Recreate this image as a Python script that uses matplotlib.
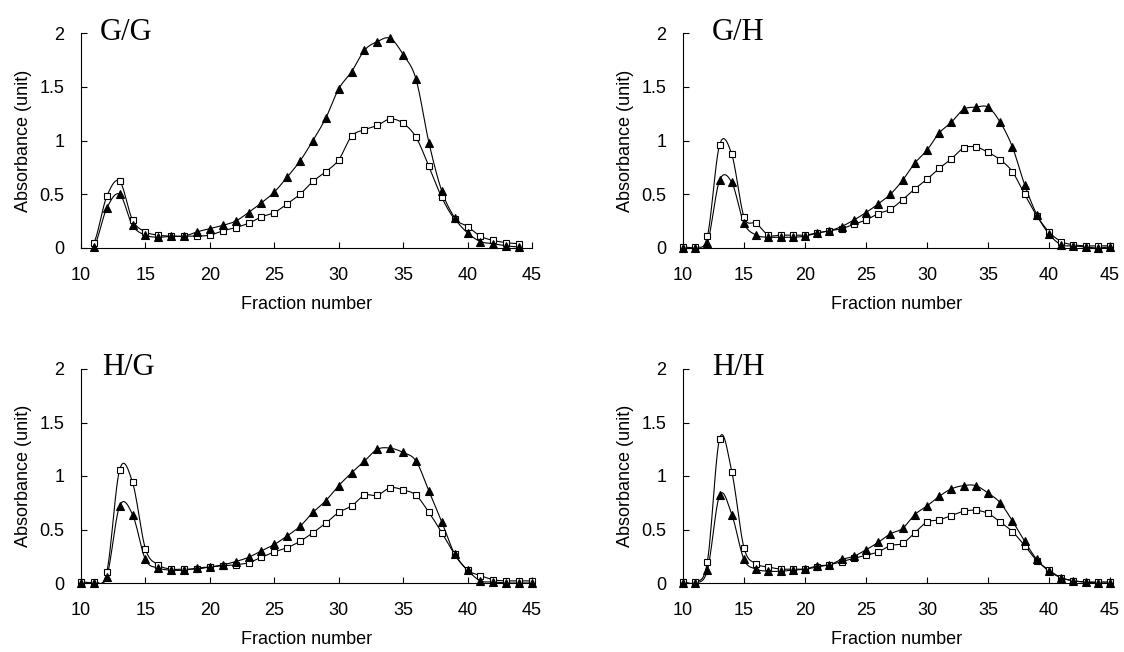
import numpy as np
import matplotlib
matplotlib.use('Agg')
import matplotlib.pyplot as plt

plt.rcParams['font.family'] = ['Liberation Sans', 'DejaVu Sans']

titles = ['G/G', 'G/H', 'H/G', 'H/H']

# fraction numbers for each panel
gg_x = list(range(11, 45))
gg_sq = [0.05, 0.48, 0.62, 0.26, 0.15, 0.12, 0.11, 0.11, 0.11, 0.12, 0.16, 0.19,
         0.23, 0.29, 0.33, 0.41, 0.50, 0.62, 0.71, 0.82, 1.04, 1.10, 1.14, 1.20,
         1.16, 1.03, 0.76, 0.47, 0.27, 0.20, 0.11, 0.07, 0.05, 0.04]
gg_tri = [0.01, 0.37, 0.50, 0.21, 0.12, 0.10, 0.11, 0.11, 0.15, 0.18, 0.21, 0.25,
          0.33, 0.42, 0.52, 0.66, 0.81, 1.00, 1.21, 1.48, 1.64, 1.84, 1.92, 1.95,
          1.80, 1.57, 0.98, 0.53, 0.28, 0.14, 0.06, 0.04, 0.02, 0.01]

gh_x = list(range(10, 46))
gh_sq = [0.01, 0.01, 0.11, 0.96, 0.87, 0.29, 0.23, 0.12, 0.12, 0.12, 0.12, 0.14,
         0.16, 0.18, 0.22, 0.26, 0.32, 0.36, 0.45, 0.55, 0.64, 0.74, 0.83, 0.93,
         0.94, 0.89, 0.82, 0.71, 0.50, 0.30, 0.15, 0.06, 0.03, 0.02, 0.02, 0.02]
gh_tri = [0.0, 0.0, 0.05, 0.63, 0.61, 0.23, 0.12, 0.10, 0.10, 0.10, 0.11, 0.14,
          0.16, 0.20, 0.26, 0.33, 0.41, 0.50, 0.63, 0.79, 0.91, 1.07, 1.17, 1.29,
          1.31, 1.31, 1.17, 0.94, 0.59, 0.31, 0.13, 0.03, 0.02, 0.01, 0.0, 0.01]

hg_x = list(range(10, 46))
hg_sq = [0.01, 0.01, 0.10, 1.06, 0.94, 0.32, 0.17, 0.13, 0.13, 0.13, 0.15, 0.16,
         0.17, 0.19, 0.24, 0.29, 0.33, 0.39, 0.47, 0.56, 0.66, 0.72, 0.82, 0.82,
         0.89, 0.87, 0.82, 0.66, 0.47, 0.27, 0.12, 0.07, 0.03, 0.02, 0.02, 0.02]
hg_tri = [0.0, 0.0, 0.06, 0.72, 0.64, 0.22, 0.14, 0.12, 0.12, 0.14, 0.15, 0.17,
          0.20, 0.24, 0.30, 0.36, 0.44, 0.53, 0.66, 0.77, 0.91, 1.03, 1.14, 1.25,
          1.26, 1.22, 1.14, 0.86, 0.57, 0.27, 0.12, 0.02, 0.01, 0.0, 0.0, 0.0]

hh_x = list(range(10, 46))
hh_sq = [0.01, 0.01, 0.20, 1.35, 1.04, 0.33, 0.18, 0.15, 0.13, 0.13, 0.13, 0.15,
         0.17, 0.20, 0.23, 0.26, 0.29, 0.35, 0.37, 0.47, 0.57, 0.59, 0.63, 0.67,
         0.68, 0.65, 0.57, 0.48, 0.35, 0.21, 0.12, 0.05, 0.02, 0.01, 0.01, 0.01]
hh_tri = [0.0, 0.0, 0.12, 0.82, 0.64, 0.22, 0.13, 0.11, 0.11, 0.12, 0.13, 0.16,
          0.17, 0.22, 0.25, 0.31, 0.38, 0.46, 0.51, 0.64, 0.72, 0.81, 0.88, 0.91,
          0.91, 0.84, 0.75, 0.58, 0.39, 0.22, 0.11, 0.05, 0.02, 0.01, 0.0, 0.0]

panels = [(gg_x, gg_sq, gg_tri), (gh_x, gh_sq, gh_tri),
          (hg_x, hg_sq, hg_tri), (hh_x, hh_sq, hh_tri)]


def smooth(x, y, n=12):
    # catmull-rom curve through the points, like excel's smoothed line
    x = np.asarray(x, float)
    y = np.asarray(y, float)
    px = np.concatenate([[2 * x[0] - x[1]], x, [2 * x[-1] - x[-2]]])
    py = np.concatenate([[y[0]], y, [y[-1]]])
    t = np.linspace(0, 1, n, endpoint=False)
    xs, ys = [], []
    for i in range(1, len(px) - 2):
        for p, out in ((px, xs), (py, ys)):
            p0, p1, p2, p3 = p[i - 1], p[i], p[i + 1], p[i + 2]
            out.extend(0.5 * (2 * p1 + (-p0 + p2) * t
                              + (2 * p0 - 5 * p1 + 4 * p2 - p3) * t ** 2
                              + (-p0 + 3 * p1 - 3 * p2 + p3) * t ** 3))
    xs.append(x[-1])
    ys.append(y[-1])
    return xs, ys


fig = plt.figure(figsize=(11.24, 6.52), dpi=100)
W, H = 1124, 652
boxes = [(81, 33, 532, 248), (683, 33, 1110, 248),
         (81, 369, 532, 583), (683, 369, 1110, 583)]
title_pos = [(19, 40), (29, 40), (21, 375), (29, 375)]  # left px offset, baseline px

for (l, t, r, b), title, (tx, ty), (x, sq, tri) in zip(boxes, titles, title_pos, panels):
    ax = fig.add_axes([l / W, 1 - b / H, (r - l) / W, (b - t) / H])
    for y, mk, fc, ms in ((sq, 's', 'white', 4.5), (tri, '^', 'black', 5.2)):
        sx, sy = smooth(x, y)
        ax.plot(sx, sy, color='black', lw=0.8, zorder=2)
        ax.plot(x, y, ls='none', marker=mk, mfc=fc, mec='black', mew=0.8,
                ms=ms, zorder=3, clip_on=False)
    ax.set_xlim(10, 45)
    ax.set_ylim(0, 2)
    ax.set_xticks(range(10, 46, 5))
    ax.set_yticks([0, 0.5, 1, 1.5, 2])
    ax.set_yticklabels(['0', '0.5', '1', '1.5', '2'])
    ax.spines['top'].set_visible(False)
    ax.spines['right'].set_visible(False)
    ax.tick_params(direction='in', length=4, labelsize=13)
    ax.tick_params(axis='x', pad=14)
    ax.tick_params(axis='y', pad=12)
    ax.set_ylabel('Absorbance (unit)', fontsize=13, labelpad=5)
    ax.set_xlabel('Fraction number', fontsize=13, labelpad=8)
    fig.text((l + tx) / W, 1 - ty / H, title, fontsize=22,
             family='Liberation Serif', va='baseline', ha='left')

fig.savefig('out.png', dpi=100)
